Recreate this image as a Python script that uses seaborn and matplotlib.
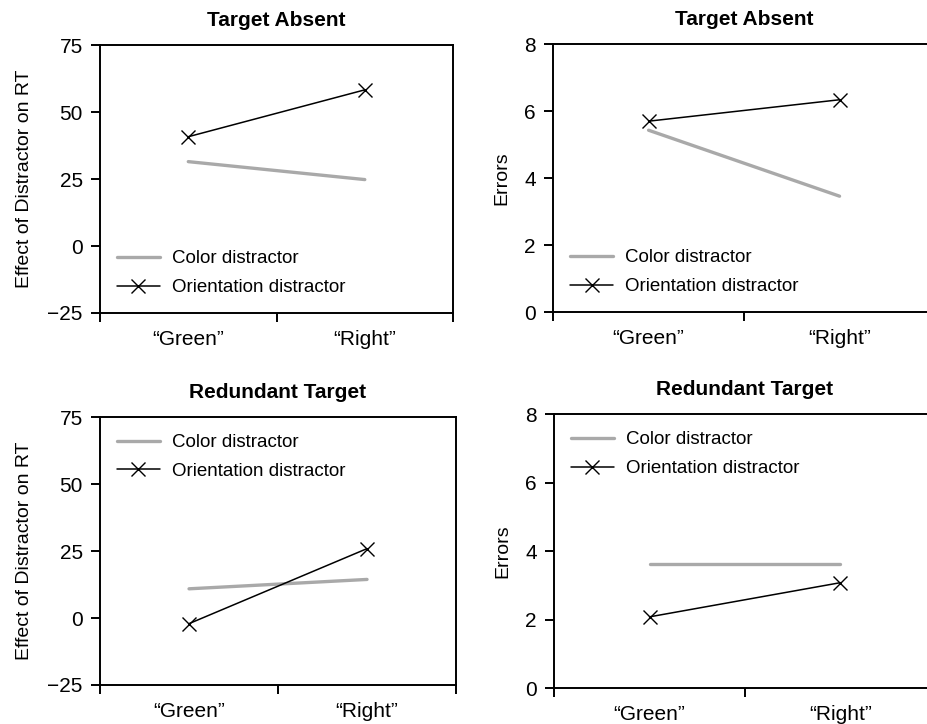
import seaborn as sns
from matplotlib import pyplot as plt
import pandas as pd

conditions = ["\u201cGreen\u201d", "\u201cRight\u201d"]
series = ["Color distractor", "Orientation distractor"]

# target absent
absent_rt_color = [31.5, 24.8]
absent_rt_orient = [40.8, 58.3]
absent_err_color = [5.43, 3.46]
absent_err_orient = [5.70, 6.34]

# redundant target
redund_rt_color = [10.9, 14.4]
redund_rt_orient = [-2.1, 25.9]
redund_err_color = [3.63, 3.63]
redund_err_orient = [2.08, 3.08]

sns.set_style("ticks")
plt.rcParams["font.family"] = ["Liberation Sans", "DejaVu Sans"]
plt.rcParams.update({"text.color": "black", "axes.labelcolor": "black",
                     "xtick.color": "black", "ytick.color": "black"})

fig = plt.figure(figsize=(9.28, 7.24), dpi=100)

panels = [
    ("Target Absent", absent_rt_color, absent_rt_orient, "rt", "lower left", [0.1078, 0.5677, 0.3804, 0.370]),
    ("Target Absent", absent_err_color, absent_err_orient, "err", "lower left", [0.596, 0.569, 0.4116, 0.370]),
    ("Redundant Target", redund_rt_color, redund_rt_orient, "rt", "upper left", [0.1078, 0.0539, 0.3836, 0.370]),
    ("Redundant Target", redund_err_color, redund_err_orient, "err", "upper left", [0.597, 0.0497, 0.4116, 0.378]),
]

for title, col_vals, ori_vals, kind, loc, pos in panels:
    ax = fig.add_axes(pos)
    df = pd.DataFrame({
        "cond": conditions * 2,
        "value": col_vals + ori_vals,
        "series": [series[0]] * 2 + [series[1]] * 2,
    })
    sns.lineplot(data=df[df["series"] == series[0]], x="cond", y="value",
                 color="#a9a9a9", lw=2.4, ax=ax, label=series[0])
    sns.lineplot(data=df[df["series"] == series[1]], x="cond", y="value",
                 color="black", lw=1.1, marker="x", markersize=10,
                 markeredgewidth=1.0, markeredgecolor="black", ax=ax, label=series[1])

    ax.set_xlim(-0.5, 1.5)
    ax.set_xticks([-0.5, 0.5, 1.5])
    ax.set_xticklabels([])
    ax.set_xticks([0, 1], minor=True)
    ax.set_xticklabels(conditions, minor=True)
    ax.tick_params(axis="x", which="minor", length=0, pad=12, labelsize=15)
    ax.tick_params(axis="x", which="major", length=6.5, width=1.4, direction="out")
    ax.tick_params(axis="y", length=6.5, width=1.4, labelsize=15, pad=6)
    ax.set_xlabel("")

    if kind == "rt":
        ax.set_ylim(-25, 75)
        ax.set_yticks([-25, 0, 25, 50, 75])
        ax.set_yticklabels(["\u221225", "0", "25", "50", "75"])
        ax.set_ylabel("Effect of Distractor on RT", fontsize=14, labelpad=10)
    else:
        ax.set_ylim(0, 8)
        ax.set_yticks([0, 2, 4, 6, 8])
        ax.set_ylabel("Errors", fontsize=14, labelpad=10)

    for s in ax.spines.values():
        s.set_visible(True)
        s.set_linewidth(1.4)
        s.set_color("black")

    ax.set_title(title, fontsize=15, fontweight="bold", pad=14)
    ax.legend(loc=loc, frameon=False, fontsize=13.5, handlelength=2.3,
              handletextpad=0.65, labelspacing=0.62, borderaxespad=0.5)

plt.savefig("out.png", dpi=100)
